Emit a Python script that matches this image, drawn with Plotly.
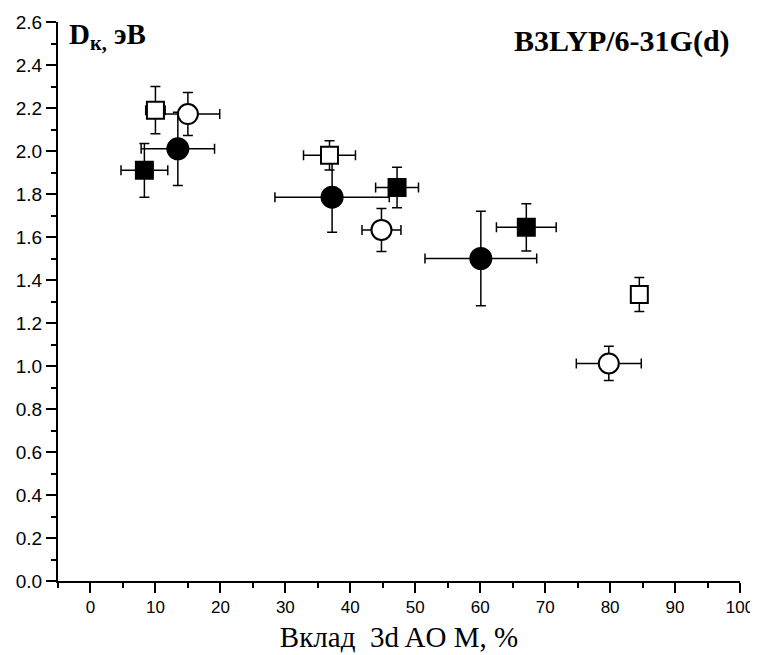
import plotly.graph_objects as go

# Filled squares
fsq_x = [8.3, 47.2, 67.1]
fsq_y = [1.91, 1.83, 1.645]
fsq_xerr = [3.6, 3.3, 4.6]
fsq_yerr = [0.125, 0.094, 0.11]

# Open squares
osq_x = [10.0, 36.8, 84.5]
osq_y = [2.19, 1.98, 1.333]
osq_xerr = [1.5, 4.0, 0.0]
osq_yerr = [0.11, 0.068, 0.079]

# Filled circles
fci_x = [13.45, 37.2, 60.1]
fci_y = [2.01, 1.785, 1.50]
fci_xerr = [5.65, 8.8, 8.6]
fci_yerr = [0.17, 0.163, 0.22]

# Open circles
oci_x = [15.0, 44.8, 79.8]
oci_y = [2.172, 1.633, 1.012]
oci_xerr = [4.9, 3.0, 5.0]
oci_yerr = [0.1, 0.1, 0.08]

x_ticks = list(range(0, 101, 10))
y_ticks = [round(i * 0.2, 1) for i in range(14)]
y_tick_text = [f"{v:.1f}" for v in y_ticks]

def err(arr):
    return dict(type="data", array=arr, visible=True, color="black", thickness=1.5, width=5)

fig = go.Figure()

def add(xs, ys, xe, ye, symbol, size, fill):
    fig.add_trace(go.Scatter(
        x=xs, y=ys, mode="markers",
        error_x=err(xe), error_y=err(ye),
        marker=dict(symbol=symbol, size=size, color=fill,
                    line=dict(color="black", width=2)),
        showlegend=False, hoverinfo="skip"))

add(fci_x, fci_y, fci_xerr, fci_yerr, "circle", 21, "black")
add(fsq_x, fsq_y, fsq_xerr, fsq_yerr, "square", 17, "black")
add(oci_x, oci_y, oci_xerr, oci_yerr, "circle", 20, "white")
add(osq_x, osq_y, osq_xerr, osq_yerr, "square", 17, "white")

fig.update_layout(
    width=750, height=647,
    margin=dict(l=50, r=18, t=14, b=74),
    paper_bgcolor="white", plot_bgcolor="white",
    font=dict(family="Liberation Sans, Arial", color="black", size=18),
    xaxis=dict(range=[-5, 100], tickmode="array", tickvals=x_ticks,
               ticktext=[str(v) for v in x_ticks],
               showline=True, linecolor="black", linewidth=2,
               ticks="outside", ticklen=10, tickwidth=2, tickcolor="black",
               minor=dict(ticks="outside", ticklen=5, tickwidth=2, dtick=5, tick0=0, tickcolor="black"),
               showgrid=False, zeroline=False, automargin=False,
               tickfont=dict(size=17, family="Liberation Sans, Arial"),
               title=dict(text="Вклад  3d AO M, %",
                          font=dict(family="Liberation Serif, Times New Roman", size=29),
                          standoff=10)),
    yaxis=dict(range=[0, 2.6], tickmode="array", tickvals=y_ticks, ticktext=y_tick_text,
               showline=True, linecolor="black", linewidth=2,
               ticks="outside", ticklen=10, tickwidth=2, tickcolor="black",
               minor=dict(ticks="outside", ticklen=5, tickwidth=2, dtick=0.1, tick0=0, tickcolor="black"),
               showgrid=False, zeroline=False, automargin=False,
               tickfont=dict(size=19, family="Liberation Sans, Arial")),
    annotations=[
        dict(text="<b>D<sub>к,</sub> эВ</b>", xref="paper", yref="paper",
             x=0.013, y=1.01, xanchor="left", yanchor="top", showarrow=False,
             font=dict(family="Liberation Serif, Times New Roman", size=29, color="black")),
        dict(text="<b>B3LYP/6-31G(d)</b>", xref="paper", yref="paper",
             x=0.988, y=1.0, xanchor="right", yanchor="top", showarrow=False,
             font=dict(family="Liberation Serif, Times New Roman", size=30, color="black")),
    ],
)

fig.write_html("out.html")
